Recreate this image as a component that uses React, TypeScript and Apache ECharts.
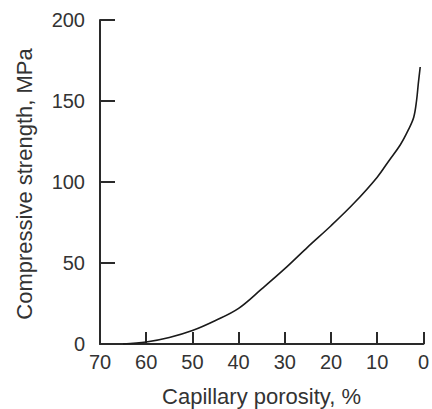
import React, { useEffect, useRef } from "react";
import * as echarts from "echarts";

const porosity = [0.7, 1.1, 1.5, 2.1, 3.3, 5, 7.5, 10, 15, 20, 25, 30, 35, 40, 45, 50, 55, 60, 65];
const strength = [171, 161, 150, 140, 132, 123, 113, 103, 87, 73, 60, 46.5, 34, 22, 14.5, 8.3, 4, 1.2, 0];
const xTitle = "Capillary porosity, %";
const yTitle = "Compressive strength, MPa";

const FONT = "Liberation Sans, Arial, Helvetica, sans-serif";
const TEXT = "#333";
const AXIS = "#2a2a2a";

export default function App() {
  const ref = useRef<HTMLDivElement>(null);
  useEffect(() => {
    const chart = echarts.init(ref.current!, null, { renderer: "svg" });
    chart.setOption({
      animation: false,
      backgroundColor: "#fff",
      grid: { left: 100, top: 20, width: 326.7, height: 324 },
      xAxis: {
        type: "value",
        inverse: true,
        min: 0,
        max: 70,
        interval: 10,
        axisLine: { show: true, onZero: false, lineStyle: { color: AXIS, width: 2 } },
        axisTick: { show: true, inside: true, length: 12, lineStyle: { color: AXIS, width: 2 } },
        axisLabel: { color: TEXT, fontSize: 20, fontFamily: FONT, margin: 8 },
        splitLine: { show: false },
      },
      yAxis: {
        type: "value",
        position: "left",
        min: 0,
        max: 200,
        interval: 50,
        axisLine: { show: true, onZero: false, lineStyle: { color: AXIS, width: 2 } },
        axisTick: { show: true, inside: true, length: 15, lineStyle: { color: AXIS, width: 2 } },
        axisLabel: { color: TEXT, fontSize: 20, fontFamily: FONT, margin: 15 },
        splitLine: { show: false },
      },
      graphic: [
        {
          type: "text",
          x: 261.5,
          y: 396,
          style: {
            text: xTitle,
            fill: TEXT,
            font: `22px ${FONT}`,
            textAlign: "center",
            textVerticalAlign: "middle",
          },
        },
        {
          type: "text",
          x: 24,
          y: 184,
          rotation: Math.PI / 2,
          style: {
            text: yTitle,
            fill: TEXT,
            font: `22px ${FONT}`,
            textAlign: "center",
            textVerticalAlign: "middle",
          },
        },
      ],
      series: [
        {
          type: "line",
          data: porosity.map((p, i) => [p, strength[i]]),
          smooth: 0.35,
          showSymbol: false,
          lineStyle: { color: "#1a1a1a", width: 1.6 },
        },
      ],
    });
    return () => chart.dispose();
  }, []);
  return <div ref={ref} style={{ width: 432, height: 409, position: "absolute", left: 0, top: 0 }} />;
}
